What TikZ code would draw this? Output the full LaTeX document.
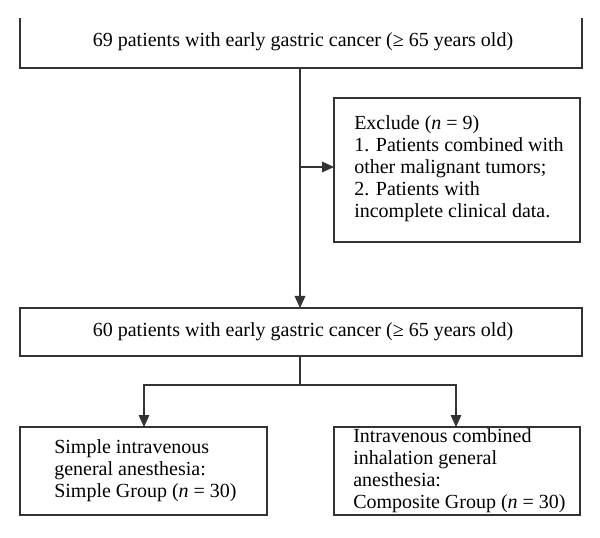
\documentclass[tikz,border=0pt]{standalone}
\usepackage{fontspec}
\setmainfont{Liberation Serif}
\usetikzlibrary{arrows.meta}
\begin{document}
\begin{tikzpicture}[x=0.75pt,y=-0.75pt,
  bx/.style={draw=black!80,line width=0.9pt},
  ln/.style={draw=black!80,line width=0.9pt},
  ar/.style={ln,-{Triangle[length=9pt,width=8pt]}},
  tx/.style={font=\fontsize{15}{16.5}\selectfont,align=left,anchor=west,inner sep=0}]
\useasboundingbox (0,0) rectangle (600,538);
% top box (top edge cut off)
\draw[bx] (20,18) -- (20,68) -- (582,68) -- (582,18);
\node[font=\fontsize{15}{18}\selectfont] (t1) at (303,42) {69 patients with early gastric cancer (≥ 65 years old)};
\coordinate (b1) at (300,68);
% exclude box
\draw[bx] (334,98) rectangle (580,242);
\node[tx] (ex) at (354,169) {Exclude (\textit{n} = 9)\\1. Patients combined with\\other malignant tumors;\\2. Patients with\\incomplete clinical data.};
\coordinate (exl) at (334,167);
\coordinate (br) at (300,167);
% second box
\draw[bx] (20,308) rectangle (582,356);
\node[font=\fontsize{15}{18}\selectfont] (t2) at (303,332) {60 patients with early gastric cancer (≥ 65 years old)};
\coordinate (b2t) at (300,308);
\coordinate (b2b) at (300,356);
\coordinate (sp) at (300,385);
\coordinate (spl) at (144,385);
\coordinate (spr) at (456,385);
\coordinate (l3) at (144,427);
\coordinate (r3) at (456,427);
\draw[ar] (b1) -- (b2t);
\draw[ar] (br) -- (exl);
\draw[ln] (b2b) -- (sp);
\draw[ar] (sp) -- (spl) -- (l3);
\draw[ar] (sp) -- (spr) -- (r3);
% bottom boxes
\draw[bx] (20,427) rectangle (267,515);
\draw[bx] (334,427) rectangle (580,515);
\node[tx] (lb) at (54,471) {Simple intravenous\\general anesthesia:\\Simple Group (\textit{n} = 30)};
\node[tx] (rb) at (353,471) {Intravenous combined\\inhalation general\\anesthesia:\\Composite Group (\textit{n} = 30)};
\end{tikzpicture}
\end{document}
